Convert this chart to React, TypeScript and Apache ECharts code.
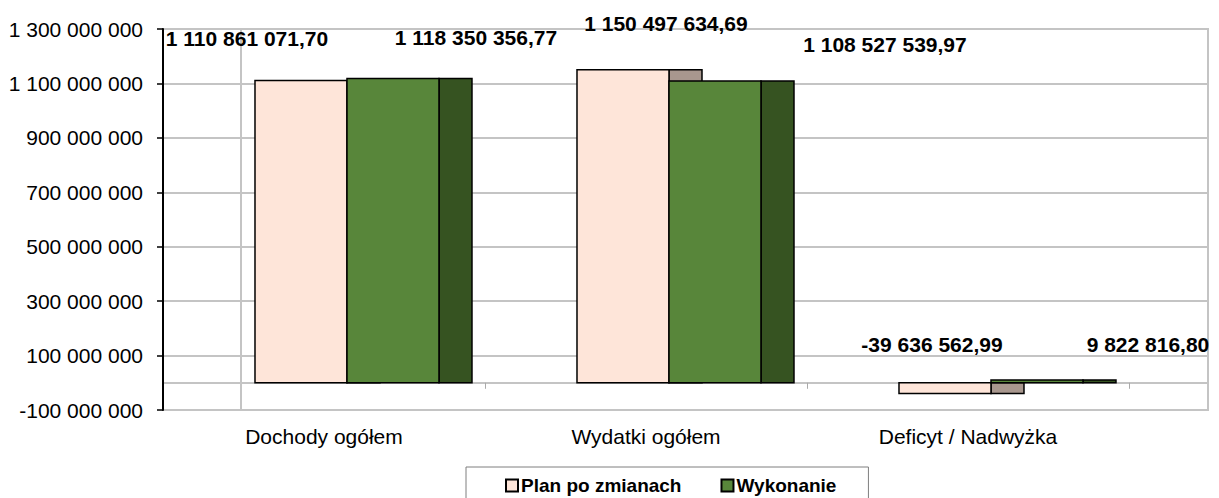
import React, { useEffect, useRef } from "react";
import * as echarts from "echarts";

const categories = ["Dochody ogółem", "Wydatki ogółem", "Deficyt / Nadwyżka"];
const planValues = [1110861071.7, 1150497634.69, -39636562.99];
const wykonanieValues = [1118350356.77, 1108527539.97, 9822816.8];
const seriesNames = ["Plan po zmianach", "Wykonanie"];
const yTicks = { min: -100000000, max: 1300000000, interval: 200000000 };

const FONT = "'Liberation Sans', Arial, sans-serif";

// styling (label offsets from the front face centre / top in px)
const planLabelOffsets = [[-54, -42], [43, -46], [-13, -49]];
const wykLabelOffsets = [[83, -41], [170, -37], [111, -36]];

function groupDigits(s: string) {
  return s.replace(/\B(?=(\d{3})+(?!\d))/g, " ");
}
function fmtAxis(v: number) {
  const neg = v < 0;
  const s = groupDigits(String(Math.abs(Math.round(v))));
  return (neg ? "-" : "") + s;
}
function fmtValue(v: number) {
  const neg = v < 0;
  const [i, d] = Math.abs(v).toFixed(2).split(".");
  return (neg ? "-" : "") + groupDigits(i) + "," + d;
}

function makeRender(frontStart: number, front: string, side: string, offsets: number[][]) {
  return (params: any, api: any) => {
    const idx = api.value(0);
    const val = api.value(1);
    const base = api.coord([idx, 0]);
    const top = api.coord([idx, val]);
    const band = api.size([1, 0])[0];
    const start = base[0] - band / 2;
    const x0 = start + band * frontStart;
    const w = band * 0.2857;
    const sw = band * 0.1025;
    const y = Math.min(base[1], top[1]);
    const h = Math.max(Math.abs(base[1] - top[1]), 1);
    const off = offsets[params.dataIndex];
    return {
      type: "group",
      children: [
        {
          type: "rect",
          shape: { x: x0 + w, y, width: sw, height: h },
          style: { fill: side, stroke: "#000", lineWidth: 1.5 },
        },
        {
          type: "rect",
          shape: { x: x0, y, width: w, height: h },
          style: { fill: front, stroke: "#000", lineWidth: 1.5 },
        },
        {
          type: "text",
          x: x0 + w / 2 + off[0],
          y: top[1] + off[1],
          style: {
            text: fmtValue(val),
            font: `bold 21px ${FONT}`,
            fill: "#000",
            align: "center",
            verticalAlign: "middle",
          },
        },
      ],
    };
  };
}

export default function App() {
  const ref = useRef<HTMLDivElement>(null);
  useEffect(() => {
    if (!ref.current) return;
    const chart = echarts.init(ref.current, undefined, { renderer: "svg" });
    const planData = planValues.map((v, i) => [i, v]);
    const wykData = wykonanieValues.map((v, i) => [i, v]);
    chart.setOption({
      animation: false,
      backgroundColor: "#fff",
      textStyle: { fontFamily: FONT },
      grid: [
        { left: 163, top: 29, width: 966, height: 381 },
        {
          left: 163,
          top: 29,
          width: 1045,
          height: 381,
          show: true,
          borderColor: "#c4c4c4",
          borderWidth: 2,
          backgroundColor: "transparent",
        },
      ],
      xAxis: [
        {
          type: "category",
          gridIndex: 0,
          data: categories,
          boundaryGap: true,
          axisLine: { onZero: true, lineStyle: { color: "#c4c4c4", width: 2 } },
          axisTick: { show: true, length: 6, lineStyle: { color: "#aaa", width: 1 } },
          axisLabel: { color: "#000", fontSize: 21, fontFamily: FONT, margin: 16 },
          z: 1,
        },
        {
          type: "value",
          gridIndex: 1,
          min: 0,
          max: 1,
          axisLine: { show: true, onZero: true, lineStyle: { color: "#c4c4c4", width: 2 } },
          axisTick: { show: false },
          axisLabel: { show: false },
          splitLine: { show: false },
        },
      ],
      yAxis: [
        {
          type: "value",
          gridIndex: 0,
          min: yTicks.min,
          max: yTicks.max,
          interval: yTicks.interval,
          axisLine: { show: true, onZero: false, lineStyle: { color: "#000", width: 2 } },
          axisTick: { show: true, length: 6, lineStyle: { color: "#000", width: 1.5 } },
          axisLabel: {
            color: "#000",
            fontSize: 21,
            fontFamily: FONT,
            margin: 20,
            formatter: (v: number) => fmtAxis(v),
          },
          splitLine: { show: false },
          z: 3,
        },
        {
          type: "value",
          gridIndex: 1,
          min: yTicks.min,
          max: yTicks.max,
          interval: yTicks.interval,
          axisLine: { show: false },
          axisTick: { show: false },
          axisLabel: { show: false },
          splitLine: { show: true, lineStyle: { color: "#c4c4c4", width: 2 } },
        },
      ],
      legend: {
        left: 466,
        top: 467,
        orient: "horizontal",
        padding: [9, 32, 20, 39],
        borderColor: "#7f7f7f",
        borderWidth: 1,
        itemWidth: 12,
        itemHeight: 12,
        itemGap: 39,
        textStyle: { fontSize: 19, fontWeight: "bold", color: "#000", fontFamily: FONT, padding: [0, 0, 0, -2] },
        data: [
          { name: seriesNames[0], icon: "rect", itemStyle: { color: "#fee5d9", borderColor: "#000", borderWidth: 2 } },
          { name: seriesNames[1], icon: "rect", itemStyle: { color: "#58863a", borderColor: "#000", borderWidth: 2 } },
        ],
      },
      graphic: [
        {
          type: "line",
          shape: { x1: 241, y1: 29, x2: 241, y2: 410 },
          style: { stroke: "#c4c4c4", lineWidth: 2 },
          z: 0,
          silent: true,
        },
      ],
      series: [
        {
          name: seriesNames[0],
          type: "custom",
          xAxisIndex: 0,
          yAxisIndex: 0,
          itemStyle: { color: "#fee5d9" },
          renderItem: makeRender(0.2857, "#fee5d9", "#a8978e", planLabelOffsets),
          encode: { x: 0, y: 1 },
          data: planData,
          z: 4,
        },
        {
          name: seriesNames[1],
          type: "custom",
          xAxisIndex: 0,
          yAxisIndex: 0,
          itemStyle: { color: "#58863a" },
          renderItem: makeRender(0.5714, "#58863a", "#365321", wykLabelOffsets),
          encode: { x: 0, y: 1 },
          data: wykData,
          z: 5,
        },
      ],
    });
    return () => chart.dispose();
  }, []);
  return <div ref={ref} style={{ width: 1219, height: 498, position: "absolute", left: 0, top: 0 }} />;
}
